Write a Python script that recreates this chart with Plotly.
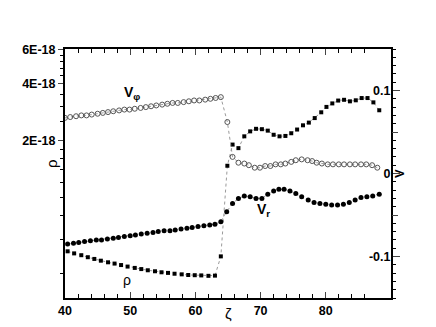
import plotly.graph_objects as go

# V_phi (open circles, right axis)
zeta_phi = [40.0, 40.8, 41.7, 42.5, 43.3, 44.1, 45.0, 45.8, 46.6, 47.4, 48.3, 49.1, 49.9, 50.7, 51.6,
            52.4, 53.2, 54.0, 54.9, 55.7, 56.5, 57.3, 58.2, 59.0, 59.8, 60.6, 61.5, 62.3, 63.1, 63.9,
            64.9, 65.7, 66.6, 67.5, 68.2, 69.1, 69.9, 70.7, 71.5, 72.3, 73.1, 73.8, 74.7, 75.4, 76.3,
            77.2, 77.9, 78.6, 79.4, 80.3, 81.1, 82.0, 82.8, 83.7, 84.5, 85.4, 86.2, 87.1, 87.9]
v_phi = [0.067, 0.068, 0.069, 0.070, 0.070, 0.071, 0.072, 0.073, 0.074, 0.075, 0.076, 0.077, 0.077, 0.078, 0.079,
         0.080, 0.081, 0.082, 0.083, 0.084, 0.085, 0.085, 0.086, 0.087, 0.088, 0.088, 0.089, 0.090, 0.091, 0.092,
         0.062, 0.020, 0.013, 0.012, 0.010, 0.007, 0.007, 0.009, 0.009, 0.011, 0.011, 0.012, 0.014, 0.016, 0.017,
         0.016, 0.015, 0.013, 0.012, 0.011, 0.011, 0.011, 0.011, 0.011, 0.011, 0.011, 0.011, 0.010, 0.007]

# V_r (filled circles, right axis)
zeta_r = [40.4, 41.3, 42.1, 43.0, 43.9, 44.8, 45.6, 46.5, 47.4, 48.2, 49.1, 50.0, 50.8, 51.7, 52.6,
          53.5, 54.3, 55.2, 56.1, 56.9, 57.8, 58.7, 59.5, 60.4, 61.3, 62.2, 63.0, 63.9,
          64.8, 65.7, 66.6, 67.5, 68.4, 69.3, 70.2, 71.1, 72.0, 72.8, 73.6, 74.5, 75.4, 76.3,
          77.3, 78.2, 79.1, 80.0, 80.9, 81.8, 82.7, 83.6, 84.5, 85.4, 86.3, 87.2, 88.2]
v_r = [-0.085, -0.084, -0.083, -0.082, -0.081, -0.080, -0.080, -0.079, -0.078, -0.077, -0.076, -0.075, -0.074, -0.073, -0.072,
       -0.071, -0.070, -0.069, -0.069, -0.068, -0.067, -0.066, -0.065, -0.064, -0.063, -0.062, -0.061, -0.058,
       -0.046, -0.036, -0.030, -0.027, -0.028, -0.030, -0.030, -0.025, -0.021, -0.019, -0.019, -0.021, -0.024, -0.028,
       -0.032, -0.035, -0.036, -0.037, -0.038, -0.038, -0.037, -0.035, -0.032, -0.029, -0.028, -0.027, -0.025]

# rho (small squares, left log axis)
zeta_rho = [40.4, 41.4, 42.5, 43.5, 44.5, 45.5, 46.6, 47.6, 48.6, 49.6, 50.7, 51.7, 52.7, 53.8, 54.8,
            55.8, 56.8, 57.9, 58.9, 59.9, 60.9, 62.0, 63.0, 63.9,
            64.9, 65.7, 66.6, 67.5, 68.4, 69.3, 70.2, 71.1, 72.0, 72.9, 73.8, 74.7, 75.6, 76.5,
            77.4, 78.3, 79.3, 80.1, 81.0, 81.9, 82.8, 83.7, 84.6, 85.5, 86.4, 87.3, 88.2]
rho = [5.21e-19, 5.08e-19, 4.97e-19, 4.85e-19, 4.75e-19, 4.65e-19, 4.56e-19, 4.49e-19, 4.41e-19, 4.33e-19,
       4.26e-19, 4.20e-19, 4.14e-19, 4.09e-19, 4.04e-19, 4.01e-19, 3.97e-19, 3.94e-19, 3.91e-19, 3.90e-19,
       3.89e-19, 3.87e-19, 3.88e-19, 4.90e-19,
       1.47e-18, 1.90e-18, 1.82e-18, 2.10e-18, 2.23e-18, 2.30e-18, 2.29e-18, 2.25e-18, 2.14e-18, 2.10e-18,
       2.11e-18, 2.18e-18, 2.28e-18, 2.40e-18, 2.48e-18, 2.62e-18, 2.81e-18, 3.00e-18, 3.13e-18, 3.24e-18,
       3.27e-18, 3.21e-18, 3.25e-18, 3.34e-18, 3.34e-18, 3.17e-18, 2.88e-18]

x_ticks = [40, 50, 60, 70, 80, 90]
x_labels = ["40", "50", "60", "70", "80", "90"]
rho_ticks = [6e-18, 4e-18, 2e-18]
rho_labels = ["6E-18", "4E-18", "2E-18"]
rho_minor = [5.6e-18, 5.2e-18, 4.8e-18, 4.4e-18, 3.5e-18, 3e-18, 2.5e-18,
             1.8e-18, 1.6e-18, 1.4e-18, 1.2e-18, 1e-18, 8e-19, 6e-19, 4e-19]
v_ticks = [-0.1, 0, 0.1]
v_labels = ["-0.1", "0", "0.1"]
v_mid_ticks = [-0.05, 0.05]

FONT = "Liberation Sans, Arial, Helvetica, sans-serif"
dotted = dict(color="#9a9a9a", width=1, dash="dot")

fig = go.Figure()
fig.add_trace(go.Scatter(x=zeta_rho, y=rho, mode="lines+markers", line=dotted,
                         marker=dict(symbol="square", size=4, color="black"), yaxis="y"))
fig.add_trace(go.Scatter(x=zeta_phi, y=v_phi, mode="lines+markers", line=dotted,
                         marker=dict(symbol="circle-open", size=5, color="#555555", line=dict(width=1)),
                         yaxis="y2"))
fig.add_trace(go.Scatter(x=zeta_r, y=v_r, mode="lines+markers", line=dotted,
                         marker=dict(symbol="circle", size=5, color="black"), yaxis="y2"))
fig.add_trace(go.Scatter(x=[None], y=[None], yaxis="y3", showlegend=False))

axis_font = dict(family=FONT, size=12.5, color="black", weight="bold")

fig.update_layout(
    width=436, height=327,
    margin=dict(l=57, r=53, t=41, b=37),
    paper_bgcolor="white", plot_bgcolor="white",
    showlegend=False,
    font=dict(family=FONT, color="black"),
    xaxis=dict(range=[40, 90], tickvals=x_ticks, ticktext=x_labels, ticks="inside", ticklen=6, tickwidth=1,
               showline=True, linewidth=2, linecolor="black", mirror="ticks", showgrid=False,
               zeroline=False, tickfont=axis_font, automargin=False,
               minor=dict(dtick=2, tick0=40, ticks="inside", ticklen=4, tickcolor="black")),
    yaxis=dict(type="log", range=[-18.529, -17.218], tickvals=rho_ticks, ticktext=rho_labels,
               ticks="outside", ticklen=5, showline=True, linewidth=2, linecolor="black",
               showgrid=False, zeroline=False, tickfont=axis_font, automargin=False,
               minor=dict(tickvals=rho_minor, ticks="outside", ticklen=3, tickcolor="black")),
    yaxis2=dict(range=[-0.15, 0.15], overlaying="y", side="right", tickvals=v_ticks, ticktext=v_labels,
                ticks="outside", ticklen=7, ticklabelposition="inside", showline=True, linewidth=2,
                linecolor="black", showgrid=False, zeroline=False, tickfont=axis_font, automargin=False,
                minor=dict(dtick=0.01, tick0=0, ticks="outside", ticklen=3, tickcolor="black")),
    yaxis3=dict(range=[-0.15, 0.15], overlaying="y", side="right", tickvals=v_mid_ticks,
                showticklabels=False, ticks="outside", ticklen=6, showline=False, showgrid=False,
                zeroline=False, automargin=False),
    annotations=[
        # axis titles
        dict(x=0.5, y=-0.105, xref="paper", yref="paper", text="ζ", showarrow=False,
             font=dict(family=FONT, size=15)),
        dict(x=-0.074, y=0.54, xref="paper", yref="paper", text="ρ", showarrow=False, textangle=-90,
             font=dict(family=FONT, size=15)),
        dict(x=1.055, y=0.50, xref="paper", yref="paper", text="<b>V</b>", showarrow=False, textangle=-90,
             font=dict(family=FONT, size=13)),
        # curve labels
        dict(x=50.3, y=0.097, xref="x", yref="y2", text="<b>V<sub>φ</sub></b>", showarrow=False,
             font=dict(family=FONT, size=14)),
        dict(x=70.4, y=-0.044, xref="x", yref="y2", text="<b>V<sub>r</sub></b>", showarrow=False,
             font=dict(family=FONT, size=14)),
        dict(x=49.45, y=-0.128, xref="x", yref="y2", text="ρ", showarrow=False,
             font=dict(family=FONT, size=14)),
    ],
)

fig.write_html("out.html")
